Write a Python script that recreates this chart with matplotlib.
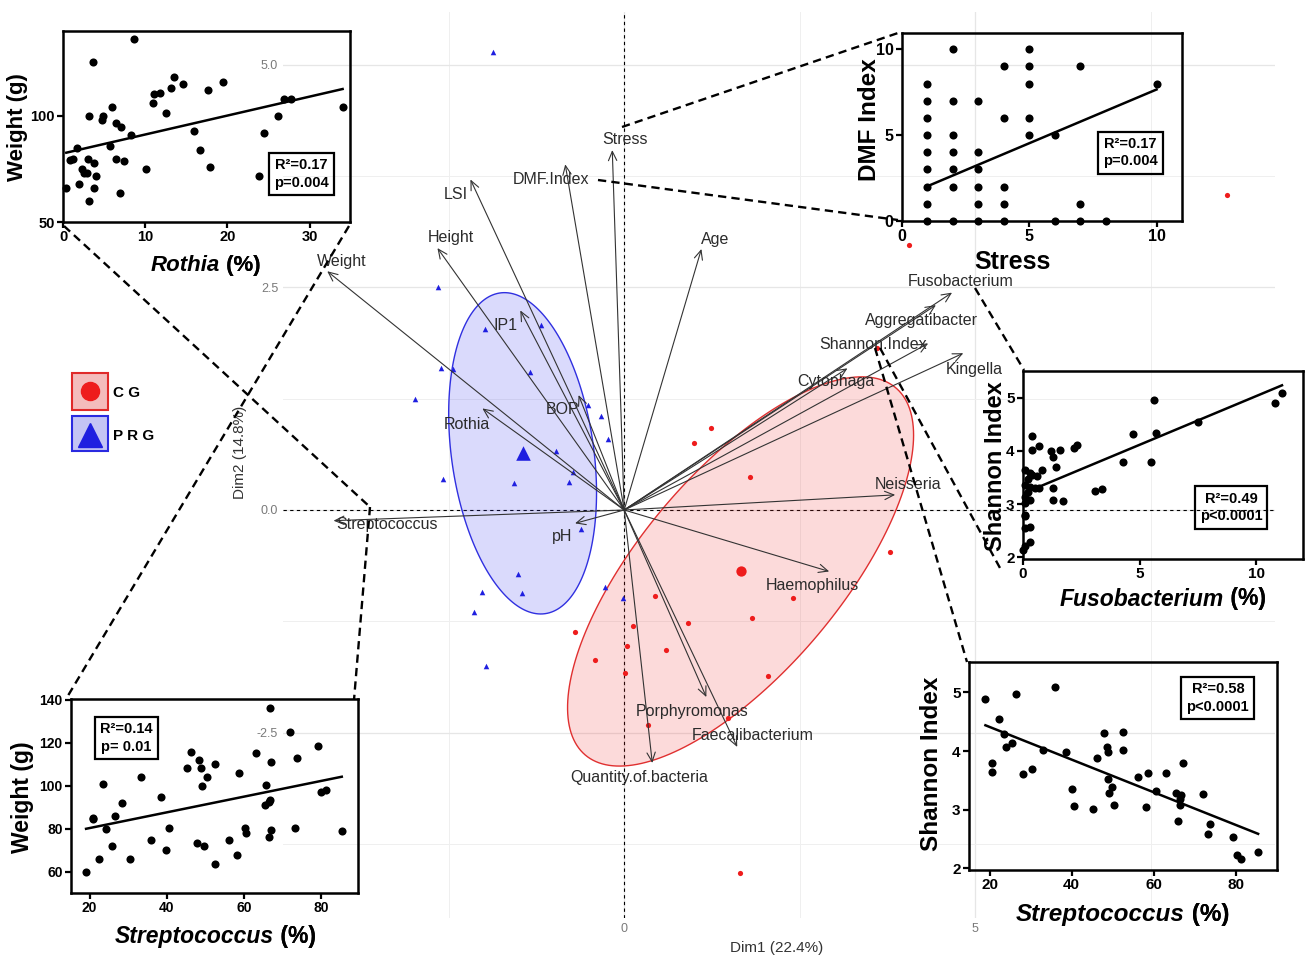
import numpy as np
import matplotlib.pyplot as plt
from matplotlib.patches import Rectangle
from matplotlib.lines import Line2D
from matplotlib.ticker import MultipleLocator, FormatStrFormatter

plt.rcParams['font.family'] = ['Liberation Sans', 'DejaVu Sans']
plt.rcParams['axes.unicode_minus'] = False

# ---- PCA individuals (Dim1, Dim2) ----
cg_dim1 = [1.23, 1.00, 1.79, 3.79, 2.41, 1.82, 0.44, 0.91, 0.13, -0.70, 0.04,
           0.60, -0.41, 0.01, 2.05, 1.48, 0.34, 1.65, 8.58, 4.05, 3.60]
cg_dim2 = [0.92, 0.75, 0.37, -0.47, -0.99, -1.21, -0.96, -1.27, -1.30, -1.37, -1.53,
           -1.57, -1.68, -1.83, -1.86, -2.34, -2.41, -4.08, 3.54, 2.98, 1.82]
prg_dim1 = [-1.87, -2.65, -1.98, -1.18, -2.61, -2.44, -2.98, -1.34, -0.51, -0.33, -0.23, -0.97,
            -2.58, -1.57, -0.78, -0.73, -0.61, -1.51, -2.02, -1.45, -2.14, -0.27, -0.01, -1.97]
prg_dim2 = [5.14, 2.50, 2.03, 2.08, 1.59, 1.58, 1.25, 1.55, 1.18, 1.05, 0.80, 0.66,
            0.35, 0.30, 0.31, 0.43, -0.21, -0.72, -0.92, -0.93, -1.14, -0.87, -0.99, -1.75]

# ---- PCA variables ----
var_names = ['Weight', 'Height', 'LSI', 'DMF.Index', 'Stress', 'Age', 'IP1', 'BOP', 'Rothia',
             'Streptococcus', 'pH', 'Neisseria', 'Haemophilus', 'Porphyromonas',
             'Faecalibacterium', 'Quantity.of.bacteria', 'Cytophaga', 'Shannon.Index',
             'Aggregatibacter', 'Fusobacterium', 'Kingella']
var_dim1 = [-4.23, -2.66, -2.19, -0.84, -0.17, 1.10, -1.48, -0.65, -2.02, -4.14, -0.70, 3.86,
            2.92, 1.17, 1.61, 0.40, 3.18, 4.33, 4.44, 4.67, 4.83]
var_dim2 = [2.68, 2.94, 3.71, 3.88, 4.04, 2.93, 2.24, 1.29, 1.14, -0.12, -0.15, 0.17,
            -0.69, -2.10, -2.66, -2.84, 1.59, 1.87, 2.30, 2.44, 1.76]

# ---- inset data ----
rothia_pct = [8.6, 3.6, 0.4, 0.8, 1.2, 1.7, 2.0, 2.3, 2.6, 2.9, 3.0, 3.2, 3.2, 3.8, 3.8, 4.0,
              4.7, 4.9, 5.7, 6.0, 6.5, 6.5, 6.9, 7.1, 7.4, 8.3, 10.1, 10.9, 11.1, 11.8, 12.5,
              13.1, 13.5, 14.6, 15.9, 16.6, 17.6, 17.9, 19.5, 23.8, 24.4, 26.2, 26.9, 27.7, 34.0]
rothia_weight = [136.3, 125.2, 65.8, 79.2, 79.5, 85.0, 68.1, 74.8, 72.9, 72.9, 79.5, 59.8, 100.0,
                 65.8, 77.9, 71.8, 98.1, 100.0, 85.8, 104.1, 79.8, 96.8, 63.7, 94.9, 78.7, 91.2,
                 74.8, 106.0, 110.3, 111.0, 101.3, 113.1, 118.1, 115.1, 92.9, 83.9, 112.0, 75.7,
                 116.2, 71.6, 92.1, 100.0, 107.9, 107.9, 104.1]

stress = [1, 1, 1, 1, 1, 1, 1, 1, 1, 2, 2, 2, 2, 2, 2, 2, 3, 3, 3, 3, 3, 3, 4, 4, 4, 4, 4,
          5, 5, 5, 5, 5, 6, 6, 7, 7, 7, 8, 10]
dmf_index = [0, 1, 2, 3, 4, 5, 6, 7, 8, 0, 2, 3, 4, 5, 7, 10, 0, 1, 2, 3, 4, 7, 0, 1, 2, 6, 9,
             5, 6, 8, 9, 10, 0, 5, 0, 1, 9, 0, 8]

fuso_pct = [11.1, 10.8, 5.6, 7.5, 5.7, 4.7, 4.3, 5.5, 3.1, 3.4, 2.3, 2.2, 1.6, 1.2, 1.3, 1.4,
            0.8, 0.7, 0.4, 0.6, 0.4, 0.4, 0.7, 1.3, 1.3, 1.7, 0.1, 0.2, 0.1, 0.3, 0.2, 0.1,
            0.3, 0.1, 0.1, 0.1, 0.3, 0.1, 0.3, 0.1, 0.0, 0.3, 0.5]
fuso_shannon = [5.09, 4.89, 4.96, 4.55, 4.33, 4.31, 3.80, 3.80, 3.25, 3.28, 4.11, 4.06, 4.01,
                4.00, 3.89, 3.69, 3.64, 4.09, 3.55, 3.53, 4.01, 4.28, 3.30, 3.30, 3.07, 3.05,
                3.64, 3.47, 3.36, 3.33, 3.22, 3.14, 3.08, 3.02, 2.80, 2.77, 2.58, 2.55, 2.28,
                2.21, 2.13, 3.58, 3.30]

strep_pct_w = [19.1, 20.9, 21.0, 22.5, 23.6, 24.3, 25.8, 26.6, 28.3, 30.5, 33.2, 35.9, 38.5,
               39.9, 40.6, 45.3, 46.2, 47.7, 48.4, 48.8, 49.0, 49.7, 50.3, 52.4, 52.6, 56.1,
               58.6, 58.2, 60.3, 60.6, 63.0, 65.4, 65.7, 66.4, 66.4, 66.6, 66.8, 66.9, 67.1,
               71.9, 73.2, 73.7, 79.2, 79.9, 81.2, 85.3]
strep_weight = [60.0, 85.0, 84.3, 65.9, 100.9, 79.9, 71.8, 85.8, 92.0, 65.9, 104.0, 74.9, 94.8,
                69.8, 80.1, 108.1, 115.8, 73.1, 111.9, 108.1, 99.8, 71.8, 104.2, 109.9, 63.7,
                74.9, 106.0, 67.9, 80.4, 78.0, 115.1, 90.8, 100.1, 92.5, 76.2, 93.3, 136.0,
                79.1, 111.0, 125.0, 80.1, 113.0, 118.2, 97.0, 97.9, 78.8]

strep_pct_s = [19.0, 20.7, 20.7, 22.3, 23.5, 24.1, 25.5, 26.5, 28.1, 30.3, 33.0, 35.9, 38.5,
               40.0, 40.5, 45.2, 46.2, 47.8, 48.5, 48.9, 48.9, 49.1, 49.7, 50.3, 52.4, 52.5,
               56.2, 58.2, 58.6, 60.5, 62.9, 65.3, 66.0, 66.3, 66.5, 66.7, 67.2, 72.0, 73.3,
               73.7, 79.2, 80.2, 81.2, 85.4]
strep_shannon = [4.88, 3.80, 3.65, 4.54, 4.29, 4.07, 4.14, 4.97, 3.61, 3.69, 4.02, 5.10, 3.99,
                 3.35, 3.07, 3.01, 3.88, 4.30, 4.07, 3.99, 3.53, 3.28, 3.38, 3.08, 4.01, 4.33,
                 3.55, 3.05, 3.63, 3.32, 3.63, 3.28, 2.80, 3.08, 3.19, 3.25, 3.80, 3.27, 2.59,
                 2.76, 2.54, 2.23, 2.15, 2.28]

# regression fits (slope, intercept)
fit_rothia = (0.893, 82.3)
fit_stress = (0.626, 1.40)
fit_fuso = (0.183, 3.20)
fit_strep_w = (0.366, 72.9)
fit_strep_s = (-0.0279, 4.97)

W, H = 1314, 960
fig = plt.figure(figsize=(W / 100, H / 100), dpi=100)


def fbox(left, top, right, bottom):
    return [left / W, 1 - bottom / H, (right - left) / W, (bottom - top) / H]


def fx(x):
    return x / W


def fy(y):
    return 1 - y / H


# ---------------- main biplot ----------------
ax = fig.add_axes(fbox(283, 12, 1275, 918))
ax.set_xlim(-4.86, 9.27)
ax.set_ylim(-4.58, 5.59)
ax.xaxis.set_major_locator(MultipleLocator(5))
ax.xaxis.set_minor_locator(MultipleLocator(2.5))
ax.yaxis.set_major_locator(MultipleLocator(2.5))
ax.yaxis.set_minor_locator(MultipleLocator(1.25))
ax.yaxis.set_major_formatter(FormatStrFormatter('%.1f'))
ax.grid(which='major', color='#e6e6e6', lw=0.9)
ax.grid(which='minor', color='#efefef', lw=0.7)
ax.set_axisbelow(True)
for s in ax.spines.values():
    s.set_visible(False)
ax.tick_params(which='both', length=0, labelsize=9, labelcolor='#7a7a7a')
ax.axhline(0, color='black', lw=0.8, ls=(0, (3, 3)), zorder=1)
ax.axvline(0, color='black', lw=0.8, ls=(0, (3, 3)), zorder=1)


def ellipse_xy(x, y, scale=1.19, n=200):
    x = np.asarray(x)
    y = np.asarray(y)
    vals, vecs = np.linalg.eigh(np.cov(x, y))
    t = np.linspace(0, 2 * np.pi, n)
    circ = np.vstack([np.cos(t), np.sin(t)]) * np.sqrt(vals)[:, None] * scale
    pts = vecs @ circ
    return x.mean() + pts[0], y.mean() + pts[1]


ex, ey = ellipse_xy(prg_dim1, prg_dim2)
ax.fill(ex, ey, fc=(0.2, 0.2, 0.95, 0.18), ec='#3030e0', lw=1.0, zorder=2)
ex, ey = ellipse_xy(cg_dim1, cg_dim2)
ax.fill(ex, ey, fc=(0.95, 0.2, 0.2, 0.18), ec='#e03030', lw=1.0, zorder=2)

ax.scatter(prg_dim1, prg_dim2, marker='^', s=16, color='#1f1fe0', lw=0, zorder=3)
ax.scatter(cg_dim1, cg_dim2, marker='o', s=14, color='#ee1c1c', lw=0, zorder=3)
ax.scatter([np.mean(prg_dim1)], [np.mean(prg_dim2)], marker='^', s=110, color='#1f1fe0', lw=0, zorder=3)
ax.scatter([np.mean(cg_dim1)], [np.mean(cg_dim2)], marker='o', s=55, color='#ee1c1c', lw=0, zorder=3)

label_offset = {
    'Weight': (15, -10), 'Height': (13, -11), 'LSI': (-15, 15), 'DMF.Index': (-14, 15),
    'Stress': (13, -11), 'Age': (14, -9), 'IP1': (-15, 15), 'BOP': (-16, 14),
    'Rothia': (-16, 16), 'Streptococcus': (53, 4), 'pH': (-13, 13), 'Neisseria': (13, -10),
    'Haemophilus': (-17, 14), 'Porphyromonas': (-14, 14), 'Faecalibacterium': (15, -11),
    'Quantity.of.bacteria': (-13, 15), 'Cytophaga': (-12, 13), 'Shannon.Index': (-55, 1),
    'Aggregatibacter': (-14, 15), 'Fusobacterium': (9, -11), 'Kingella': (11, 16),
}
for name, vx, vy in zip(var_names, var_dim1, var_dim2):
    ax.annotate('', xy=(vx, vy), xytext=(0, 0),
                arrowprops=dict(arrowstyle='->,head_length=0.55,head_width=0.25',
                                color='#333333', lw=0.8, shrinkA=0, shrinkB=0,
                                mutation_scale=12), zorder=4)
    dx, dy = label_offset[name]
    ax.annotate(name, xy=(vx, vy), xytext=(dx, -dy), textcoords='offset pixels',
                ha='center', va='center', fontsize=11.5, color='#2b2b2b', zorder=5)

fig.text(fx(777), fy(948), 'Dim1 (22.4%)', ha='center', va='center', fontsize=11, color='#333333')
fig.text(fx(240), fy(452), 'Dim2 (14.8%)', ha='center', va='center', fontsize=11,
         color='#333333', rotation=90)


# ---------------- insets ----------------
def inset(box, x, y, xlim, ylim, xstep, ystep, fit, stats, stat_pos, tick_fs):
    a = fig.add_axes(fbox(*box))
    a.patch.set_alpha(0)
    a.set_xlim(*xlim)
    a.set_ylim(*ylim)
    a.xaxis.set_major_locator(MultipleLocator(xstep))
    a.yaxis.set_major_locator(MultipleLocator(ystep))
    for s in a.spines.values():
        s.set_linewidth(1.8)
    a.tick_params(direction='out', length=4, width=1.6, labelsize=tick_fs, pad=2)
    for lab in a.get_xticklabels() + a.get_yticklabels():
        lab.set_fontweight('bold')
    a.scatter(x, y, s=34, color='black', lw=0, zorder=3, clip_on=False)
    xs = np.array([min(x), max(x)])
    a.plot(xs, fit[1] + fit[0] * xs, color='black', lw=1.8, zorder=3)
    a.text(stat_pos[0], stat_pos[1], stats, transform=a.transAxes, ha='center', va='center',
           fontsize=10.5, fontweight='bold', linespacing=1.35,
           bbox=dict(boxstyle='square,pad=0.35', fc='none', ec='black', lw=1.6))
    return a


def xlabel_parts(name, x_end, y, fs):
    t = fig.text(fx(x_end), fy(y), name, ha='right', va='center', fontsize=fs,
                 fontweight='bold', fontstyle='italic')
    ann = plt.annotate(' (%)', xy=(1, 0), xycoords=t, ha='left', va='bottom',
                       fontsize=fs, fontweight='bold', annotation_clip=False)
    fig.add_artist(ann)


def ylabel_at(text, x, y, fs):
    fig.text(fx(x), fy(y), text, ha='center', va='center', rotation=90,
             fontsize=fs, fontweight='bold')


inset((63, 31, 350, 222), rothia_pct, rothia_weight, (0, 34.9), (50, 140), 10, 50,
      fit_rothia, 'R²=0.17\np=0.004', (0.831, 0.251), 10.5)
xlabel_parts('Rothia', 220, 265, 16)
ylabel_at('Weight (g)', 18, 127, 16)

inset((902, 33, 1182, 221), stress, dmf_index, (0, 11), (0, 10.95), 5, 5,
      fit_stress, 'R²=0.17\np=0.004', (0.816, 0.364), 11.5)
fig.text(fx(1012), fy(262), 'Stress', ha='center', va='center', fontsize=18, fontweight='bold')
ylabel_at('DMF Index', 869, 120, 17.5)

inset((1023, 371, 1303, 559), fuso_pct, fuso_shannon, (0, 12), (1.97, 5.5), 5, 1,
      fit_fuso, 'R²=0.49\np<0.0001', (0.743, 0.274), 11)
xlabel_parts('Fusobacterium', 1224, 599, 16.5)
ylabel_at('Shannon Index', 995, 466, 17)

inset((71, 699, 358, 893), strep_pct_w, strep_weight, (15.2, 89.5), (50, 140.3), 20, 20,
      fit_strep_w, 'R²=0.14\np= 0.01', (0.192, 0.799), 10)
xlabel_parts('Streptococcus', 274, 937, 16.5)
ylabel_at('Weight (g)', 22, 797, 16.5)

inset((969, 662, 1277, 870), strep_pct_s, strep_shannon, (15, 90), (1.97, 5.52), 20, 1,
      fit_strep_s, 'R²=0.58\np<0.0001', (0.808, 0.825), 11)
xlabel_parts('Streptococcus', 1185, 914, 17.5)
ylabel_at('Shannon Index', 932, 764, 17.5)

# ---------------- connector lines ----------------
connectors = [((64, 226), (370, 507)), ((349, 226), (66, 699)), ((370, 507), (354, 700)),
              ((622, 127), (898, 33)), ((598, 180), (898, 220)), ((975, 288), (1024, 370)),
              ((880, 348), (1000, 568)), ((875, 348), (967, 662))]
for (x1, y1), (x2, y2) in connectors:
    fig.add_artist(Line2D([fx(x1), fx(x2)], [fy(y1), fy(y2)], transform=fig.transFigure,
                          color='black', lw=1.7, ls=(0, (3.5, 2.2)), zorder=10))

# ---------------- legend ----------------
fig.add_artist(Rectangle((fx(72), fy(410)), 36 / W, 37 / H, transform=fig.transFigure,
                         fc='#f4bcbc', ec='#e02a2a', lw=1.5))
fig.add_artist(Rectangle((fx(72), fy(451)), 36 / W, 35 / H, transform=fig.transFigure,
                         fc='#c4c4f4', ec='#2a2ae0', lw=1.5))
fig.add_artist(Line2D([fx(90)], [fy(391)], transform=fig.transFigure, marker='o', ms=13,
                      color='#ee1c1c', lw=0))
fig.add_artist(Line2D([fx(90)], [fy(435)], transform=fig.transFigure, marker='^', ms=17,
                      color='#1f1fe0', lw=0))
fig.text(fx(113), fy(393), 'C G', ha='left', va='center', fontsize=11, fontweight='bold')
fig.text(fx(113), fy(436), 'P R G', ha='left', va='center', fontsize=11, fontweight='bold')

fig.savefig('out.png', dpi=100)
